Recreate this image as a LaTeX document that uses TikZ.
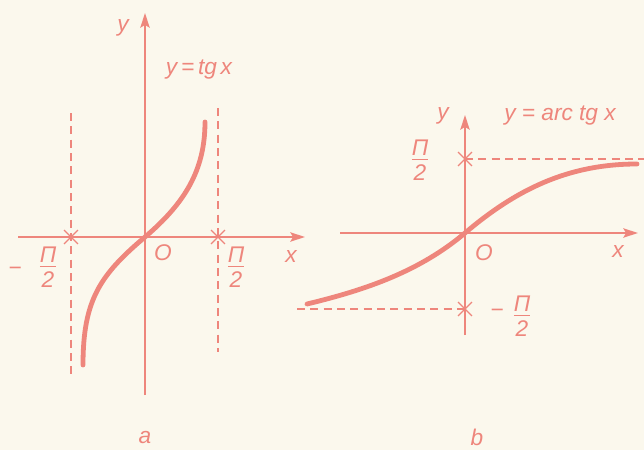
\documentclass[tikz,border=0pt]{standalone}
\usepackage{fontspec}
\setmainfont{Liberation Sans}
\usepackage{tikz}
\usetikzlibrary{
  arrows.meta,
  shapes.misc
}
\definecolor{GraphPink} {RGB}{238,134,124}
\definecolor{PaperCream}{RGB}{251,248,237}

\newcommand{\halfpi}{{\setlength{\arrayrulewidth}{0.9pt}%
  \begin{tabular}{@{}c@{}}Π\\[-3pt]\hline\rule{0pt}{15pt}2\end{tabular}}}

\begin{document}
\begin{tikzpicture}[x=0.75pt, y=-0.75pt,
  axis/.style ={GraphPink, line width=1.2pt,
                -{Stealth[length=11pt,width=7pt,inset=2pt]}},
  asym/.style ={GraphPink, line width=0.9pt, dash pattern=on 6pt off 4pt},
  curve/.style={GraphPink, line width=3.6pt, line cap=round},
  lbl/.style  ={font=\fontsize{17}{19}\selectfont\itshape, text=GraphPink,
                inner sep=0pt},
  crs/.style  ={cross out, draw=GraphPink, line width=0.9pt,
                minimum size=9.5pt, inner sep=0pt}
]
\useasboundingbox (0,0) rectangle (644,450);
\fill[PaperCream] (0,0) rectangle (644,450);

% a: y = tg x
\coordinate (xa0) at (18,237);
\coordinate (xa1) at (305,237);
\coordinate (ya0) at (145,395);
\coordinate (ya1) at (145,13);
\coordinate (oa0) at (145,237);
\draw[axis] (xa0) -- (xa1);
\draw[axis] (ya0) -- (ya1);
\node[crs] (cla) at (71,237) {};
\node[crs] (cra) at (218,237) {};
\draw[asym] (71,113) -- (71,378);
\draw[asym] (218,108) -- (218,352);
\draw[curve] (83,365) .. controls (83,300) and (100,275) .. (oa0)
             .. controls (185,203) and (205,170) .. (205,122);

\node[lbl] (ya)  at (123,28)  {y};
\node[lbl] (fa)  at (199,70)  {y\,=\,tg\,x};
\node[lbl] (oa)  at (163,253) {O};
\node[lbl] (xa)  at (291,257) {x};
\node[lbl] (mla) at (15,271)  {−};
\node[lbl] (pla) at (48,270)  {\halfpi};
\node[lbl] (pra) at (236,270) {\halfpi};
\node[lbl] (capa) at (145,438) {a};

% b: y = arc tg x
\coordinate (xb0) at (340,233);
\coordinate (xb1) at (638,233);
\coordinate (yb0) at (465,335);
\coordinate (yb1) at (465,115);
\coordinate (ob0) at (465,233);
\draw[axis] (xb0) -- (xb1);
\draw[axis] (yb0) -- (yb1);
\node[crs] (cub) at (465,159) {};
\node[crs] (cdb) at (465,309) {};
\coordinate (ub1) at (644,159);
\coordinate (db0) at (297,309);
\draw[asym] (cub.center) -- (ub1);
\draw[asym] (db0) -- (cdb.center);
\draw[curve] (307,304) .. controls (367,289.6) and (420,271) .. (ob0)
             .. controls (515,190.5) and (567,164) .. (637,164);

\node[lbl] (yb)  at (443,116) {y};
\node[lbl] (fb)  at (560,116) {y = arc tg x};
\node[lbl] (ob)  at (484,253) {O};
\node[lbl] (xb)  at (618,252) {x};
\node[lbl] (pub) at (420,163) {\halfpi};
\node[lbl] (mdb) at (497,313) {−};
\node[lbl] (pdb) at (522,319) {\halfpi};
\node[lbl] (capb) at (477,437) {b};
\end{tikzpicture}
\end{document}
